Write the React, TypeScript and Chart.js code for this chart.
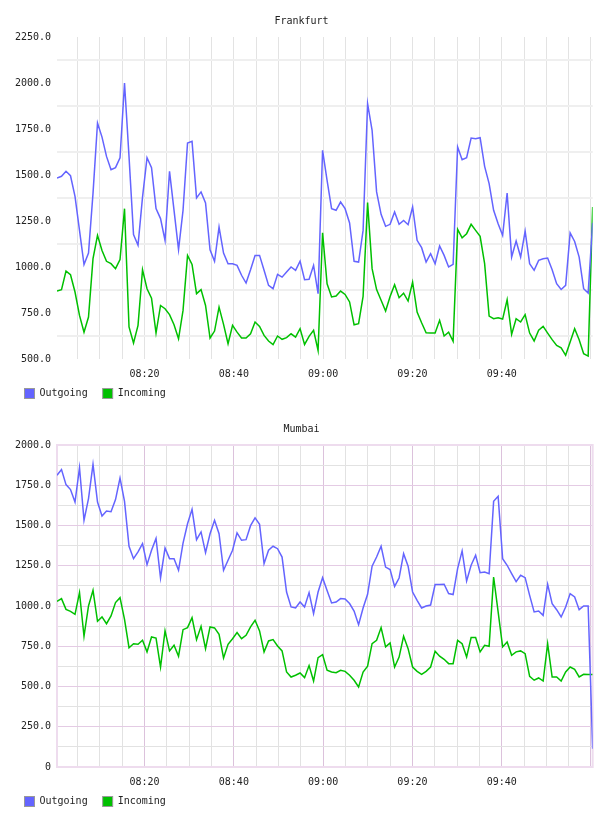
import { useEffect, useRef } from 'react';
import { Chart, registerables } from 'chart.js';

Chart.register(...registerables);

const FONT_FAMILY = "'DejaVu Sans Mono', monospace";
const TEXT_COLOR = '#222';

// Samples are taken roughly once a minute, starting shortly after 08:00.
const SAMPLE_START_SECONDS = 23;
const SAMPLE_INTERVAL_SECONDS = 60.5;

const SERIES_LABELS = ['Outgoing', 'Incoming'];
const SERIES_COLORS = ['#6464ff', '#00c000'];

// Vertical grid lines every five minutes (minutes after 08:00).
const X_GRID_MINUTES = [
  5, 10, 15, 20, 25, 30, 35, 40, 45, 50, 55, 60,
  65, 70, 75, 80, 85, 90, 95, 100, 105, 110, 115, 120,
];
// Minutes after 08:00 that carry a time label on the x axis.
const X_LABEL_MINUTES = [20, 40, 60, 80, 100];

const FRANKFURT_Y_LABELS = [500, 750, 1000, 1250, 1500, 1750, 2000, 2250];
const MUMBAI_Y_LABELS = [0, 250, 500, 750, 1000, 1250, 1500, 1750, 2000];

const FRANKFURT_OUTGOING = [
  1484, 1493, 1520, 1496, 1384, 1199, 1013, 1076, 1400, 1783,
  1706, 1601, 1529, 1540, 1594, 2000, 1600, 1176, 1118, 1380,
  1594, 1540, 1317, 1263, 1145, 1520, 1308, 1094, 1308, 1674,
  1683, 1375, 1408, 1348, 1094, 1031, 1217, 1076, 1018, 1018,
  1009, 955, 913, 985, 1063, 1063, 982, 900, 882, 960,
  945, 973, 1000, 982, 1032, 931, 933, 1009, 855, 1634,
  1471, 1317, 1308, 1353, 1317, 1239, 1031, 1027, 1199, 1888,
  1743, 1408, 1286, 1221, 1232, 1299, 1232, 1253, 1230, 1326,
  1145, 1105, 1027, 1072, 1018, 1114, 1063, 1000, 1014, 1652,
  1583, 1594, 1701, 1697, 1703, 1547, 1453, 1308, 1235, 1172,
  1402, 1054, 1141, 1054, 1195, 1018, 982, 1036, 1045, 1049,
  985, 909, 878, 900, 1185, 1139, 1054, 882, 858, 1240,
];

const FRANKFURT_INCOMING = [
  869, 877, 978, 958, 864, 737, 646, 728, 1045, 1172,
  1090, 1031, 1018, 991, 1040, 1317, 674, 587, 683, 985,
  882, 831, 641, 791, 773, 741, 686, 610, 764, 1063,
  1014, 855, 877, 791, 614, 652, 782, 688, 583, 683,
  646, 614, 614, 637, 701, 677, 628, 598, 578, 625,
  607, 616, 637, 619, 665, 579, 623, 656, 547, 1186,
  909, 837, 842, 869, 851, 810, 686, 692, 840, 1350,
  991, 877, 819, 761, 840, 904, 833, 858, 815, 918,
  755, 697, 643, 641, 641, 710, 625, 646, 596, 1205,
  1159, 1181, 1232, 1199, 1167, 1018, 733, 719, 724, 717,
  822, 634, 719, 701, 741, 641, 598, 656, 677, 641,
  605, 574, 561, 520, 592, 665, 605, 529, 516, 1326,
];

const MUMBAI_OUTGOING = [
  1812, 1847, 1754, 1723, 1646, 1859, 1532, 1667, 1880, 1646,
  1559, 1590, 1586, 1661, 1795, 1650, 1371, 1294, 1336, 1387,
  1257, 1346, 1420, 1174, 1360, 1294, 1294, 1222, 1391, 1511,
  1600, 1412, 1460, 1331, 1449, 1532, 1449, 1222, 1284, 1346,
  1454, 1408, 1412, 1499, 1547, 1507, 1263, 1346, 1371, 1356,
  1304, 1087, 994, 988, 1025, 994, 1083, 953, 1087, 1176,
  1097, 1019, 1025, 1046, 1044, 1015, 969, 884, 988, 1073,
  1247, 1304, 1371, 1242, 1226, 1122, 1174, 1325, 1247, 1087,
  1035, 988, 1000, 1006, 1133, 1133, 1135, 1077, 1071, 1232,
  1342, 1155, 1253, 1315, 1207, 1211, 1201, 1650, 1681, 1294,
  1253, 1201, 1151, 1191, 1176, 1066, 963, 969, 942, 1135,
  1015, 977, 932, 994, 1077, 1056, 977, 1000, 1000, 114,
];

const MUMBAI_INCOMING = [
  1029, 1046, 979, 967, 948, 1083, 812, 1000, 1097, 905,
  932, 890, 938, 1021, 1052, 917, 741, 766, 762, 787,
  715, 808, 801, 621, 845, 721, 756, 688, 853, 866,
  928, 791, 874, 735, 870, 864, 824, 677, 762, 797,
  835, 797, 818, 870, 911, 845, 715, 783, 791, 752,
  721, 590, 559, 570, 584, 555, 630, 534, 679, 698,
  601, 590, 586, 601, 594, 570, 539, 497, 590, 626,
  766, 787, 866, 746, 770, 621, 683, 812, 735, 621,
  594, 576, 594, 621, 719, 688, 669, 642, 642, 787,
  766, 683, 804, 804, 715, 756, 750, 1180, 963, 746,
  777, 694, 715, 721, 704, 563, 539, 553, 534, 766,
  559, 559, 534, 590, 621, 607, 559, 576, 574, 574,
];

type GridStyle = {
  hMajor: string;
  hMinor: string;
  hMinorWidth: number;
  vMajor: string;
  vMinor: string;
  frame: string | null;
};

const PLAIN_GRID: GridStyle = {
  hMajor: 'rgba(0,0,0,0)',
  hMinor: '#efefef',
  hMinorWidth: 2,
  vMajor: '#e3e3e3',
  vMinor: '#e3e3e3',
  frame: null,
};

const PINK_GRID: GridStyle = {
  hMajor: '#e4cbe4',
  hMinor: '#e2e2e2',
  hMinorWidth: 1,
  vMajor: '#dcc2dc',
  vMinor: '#e2e2e2',
  frame: '#eedcee',
};

const pad2 = (n: number) => String(n).padStart(2, '0');
const clockLabel = (minutes: number) =>
  `${pad2(8 + Math.floor(minutes / 60))}:${pad2(minutes % 60)}`;

// Outlines the plot area when a frame colour is given.
const frameBorder = {
  id: 'frameBorder',
  beforeDatasetsDraw(chart: any, _args: any, opts: any) {
    if (!opts || !opts.color) return;
    const { ctx, chartArea: a } = chart;
    ctx.save();
    ctx.strokeStyle = opts.color;
    ctx.lineWidth = 2;
    ctx.strokeRect(a.left, a.top, a.right - a.left, a.bottom - a.top);
    ctx.restore();
  },
};

// Series key under the x axis: a bordered swatch followed by the series name.
const seriesKey = {
  id: 'seriesKey',
  afterDraw(chart: any, _args: any, opts: any) {
    const { ctx, chartArea } = chart;
    const box = 10;
    const gap = 15;
    const top = Math.round(chartArea.bottom + opts.offset) + 0.5;
    let x = opts.left + 0.5;
    ctx.save();
    ctx.font = `10px ${FONT_FAMILY}`;
    ctx.textBaseline = 'middle';
    ctx.textAlign = 'left';
    chart.data.datasets.forEach((ds: any) => {
      ctx.fillStyle = ds.borderColor;
      ctx.fillRect(x, top, box, box);
      ctx.strokeStyle = '#999';
      ctx.lineWidth = 1;
      ctx.strokeRect(x, top, box, box);
      ctx.fillStyle = TEXT_COLOR;
      ctx.fillText(ds.label, x + box + 5, top + box / 2);
      x += box + 5 + ctx.measureText(ds.label).width + gap;
    });
    ctx.restore();
  },
};

type PanelProps = {
  title: string;
  outgoing: number[];
  incoming: number[];
  yMin: number;
  yMax: number;
  yLabels: number[];
  grid: GridStyle;
};

function TrafficPanel({ title, outgoing, incoming, yMin, yMax, yLabels, grid }: PanelProps) {
  const canvasRef = useRef<HTMLCanvasElement>(null);

  useEffect(() => {
    if (!canvasRef.current) return;
    const times = outgoing.map(
      (_, i) => (SAMPLE_START_SECONDS + i * SAMPLE_INTERVAL_SECONDS) / 60
    );
    const series = [outgoing, incoming];
    const font = { family: FONT_FAMILY, size: 10 };

    const chart = new Chart(canvasRef.current, {
      type: 'line',
      data: {
        datasets: series.map((values, s) => ({
          label: SERIES_LABELS[s],
          data: values.map((y, i) => ({ x: times[i], y })),
          borderColor: SERIES_COLORS[s],
          backgroundColor: SERIES_COLORS[s],
          borderWidth: 1.5,
          pointRadius: 0,
          tension: 0,
          fill: false,
        })),
      },
      plugins: [frameBorder, seriesKey],
      options: {
        responsive: true,
        maintainAspectRatio: false,
        animation: false,
        layout: { padding: { left: 1, right: 6, top: 0, bottom: 19 } },
        plugins: {
          frameBorder: { color: grid.frame },
          seriesKey: { left: 16, offset: 29 },
          title: {
            display: true,
            text: title,
            color: TEXT_COLOR,
            font: { ...font, weight: 'normal' },
            padding: { top: 7, bottom: 10 },
          },
          legend: { display: false },
          tooltip: { enabled: false },
        },
        scales: {
          x: {
            type: 'linear',
            min: times[0],
            max: times[times.length - 1],
            afterBuildTicks: (scale: any) => {
              scale.ticks = X_GRID_MINUTES.map((value) => ({ value }));
            },
            ticks: {
              autoSkip: false,
              maxRotation: 0,
              padding: 9,
              color: TEXT_COLOR,
              font,
              callback: (v: any) => (X_LABEL_MINUTES.includes(v) ? clockLabel(v) : ''),
            },
            grid: {
              drawTicks: false,
              color: (ctx: any) =>
                ctx.tick && ctx.tick.value % 20 === 0 ? grid.vMajor : grid.vMinor,
              lineWidth: 1,
            },
            border: { display: false },
          },
          y: {
            min: yMin,
            max: yMax,
            afterFit: (scale: any) => {
              scale.width = 48;
            },
            ticks: {
              stepSize: 125,
              autoSkip: false,
              padding: 6,
              color: TEXT_COLOR,
              font,
              callback: (v: any) =>
                yLabels.includes(v) ? (v === 0 ? '0' : Number(v).toFixed(1)) : '',
            },
            grid: {
              drawTicks: false,
              color: (ctx: any) =>
                ctx.tick && ctx.tick.value % 250 === 0 ? grid.hMajor : grid.hMinor,
              lineWidth: (ctx: any) =>
                ctx.tick && ctx.tick.value % 250 === 0 ? 1 : grid.hMinorWidth,
            },
            border: { display: false },
          },
        },
      } as any,
    });

    return () => chart.destroy();
  }, [title, outgoing, incoming, yMin, yMax, yLabels, grid]);

  return (
    <div style={{ position: 'relative', width: 592, height: 400 }}>
      <canvas ref={canvasRef} />
    </div>
  );
}

export default function App() {
  return (
    <div>
      <TrafficPanel
        title="Frankfurt"
        outgoing={FRANKFURT_OUTGOING}
        incoming={FRANKFURT_INCOMING}
        yMin={500}
        yMax={2250}
        yLabels={FRANKFURT_Y_LABELS}
        grid={PLAIN_GRID}
      />
      <div style={{ height: 8 }} />
      <TrafficPanel
        title="Mumbai"
        outgoing={MUMBAI_OUTGOING}
        incoming={MUMBAI_INCOMING}
        yMin={0}
        yMax={2000}
        yLabels={MUMBAI_Y_LABELS}
        grid={PINK_GRID}
      />
    </div>
  );
}
